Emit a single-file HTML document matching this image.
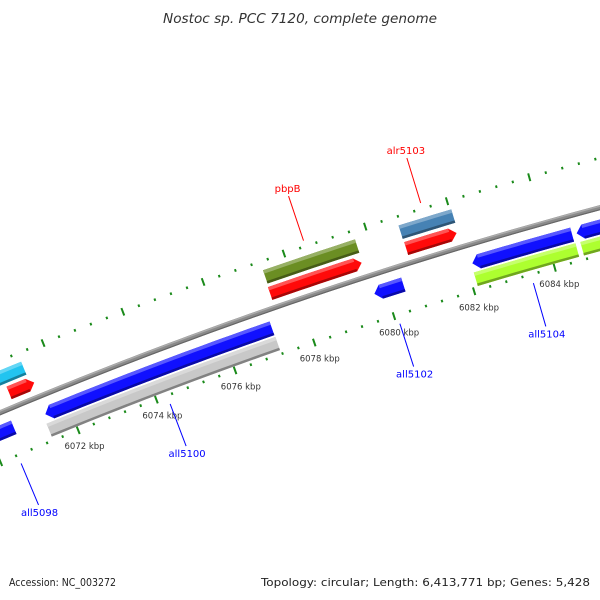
<!DOCTYPE html>
<html><head><meta charset="utf-8"><style>
html,body{margin:0;padding:0;background:#fff;overflow:hidden;width:600px;height:600px}
svg{display:block;overflow:hidden}
text{font-family:"DejaVu Sans","Liberation Sans",sans-serif}
</style></head><body>
<svg id="map" width="600" height="600" viewBox="0 0 600 600" xmlns="http://www.w3.org/2000/svg">
<rect x="0" y="0" width="600" height="600" fill="#fff"/>
<text x="300" y="23" text-anchor="middle" font-size="13" font-style="italic" fill="#333" textLength="274" lengthAdjust="spacingAndGlyphs">Nostoc sp. PCC 7120, complete genome</text>
<g id="ticks"></g>
<g id="backbone"></g>
<g id="features"></g>
<g id="labels"></g>
<text x="9" y="586" font-size="11" fill="#222" textLength="107" lengthAdjust="spacingAndGlyphs">Accession: NC_003272</text>
<text x="590" y="586" text-anchor="end" font-size="11" fill="#222" textLength="329" lengthAdjust="spacingAndGlyphs">Topology: circular; Length: 6,413,771 bp; Genes: 5,428</text>
</svg>
<script>
// ---- data (positions in kbp) ----
const geneNames  = ["gene-cyan","pbpB-box","alr5103-box","red-a","pbpB","alr5103","all5098","all5100","all5102","all5104","all5106","gray-box","lime-box","lime-box-2"];
const geneStart  = [6069.0,6077.41,6080.75,6070.82,6077.39,6080.76,6068.0,6071.42,6079.72,6082.15,6084.72,6071.36,6082.12,6084.75];
const geneEnd    = [6071.36,6079.68,6082.04,6071.46,6079.66,6082.0,6070.61,6077.16,6080.44,6084.61,6089.0,6077.17,6084.63,6089.0];
const geneTrack  = ["outerFar","outerFar","outerFar","outerNear","outerNear","outerNear","innerNear","innerNear","innerNear","innerNear","innerNear","innerFar","innerFar","innerFar"];
const geneShape  = ["box","box","box","fwd","fwd","fwd","rev","rev","rev","rev","rev","box","box","box"];
const geneColor  = ["#22c4f0","#6b8e23","#4682b4","#ff0a0a","#ff0a0a","#ff0a0a","#1010ff","#1010ff","#1010ff","#1010ff","#1010ff","#c8c8c8","#adff2f","#adff2f"];
const labelNames = ["pbpB","alr5103","all5098","all5100","all5102","all5104"];
const labelPos   = [6078.53,6081.40,6070.44,6074.27,6080.08,6083.41];
const labelSide  = ["outer","outer","inner","inner","inner","inner"];
const labelColor = ["#ff0000","#ff0000","#0000ff","#0000ff","#0000ff","#0000ff"];
const tickLabelKbp = [6072,6074,6076,6078,6080,6082,6084];

// ---- geometry ----
const CX=1813, CY=4737, RB=4689;
const A0=-111.94, K0=6072, DEG_PER_KBP=0.518;
const trackOff={outerFar:[25,39],outerNear:[8,21.5],innerNear:[-26,-11.5],innerFar:[-42,-28]};
const NS="http://www.w3.org/2000/svg";
function ang(k){return (A0+(k-K0)*DEG_PER_KBP)*Math.PI/180;}
function pt(k,r){const a=ang(k);return [CX+r*Math.cos(a),CY+r*Math.sin(a)];}
function f(p){return p[0].toFixed(2)+" "+p[1].toFixed(2);}
function mk(tag,parent){const e=document.createElementNS(NS,tag);parent.appendChild(e);return e;}
function shade(hex,amt){let n=parseInt(hex.slice(1),16);let r=n>>16,g=(n>>8)&255,b=n&255;
 const t=amt<0?0:255,p=Math.abs(amt);r=Math.round(r+(t-r)*p);g=Math.round(g+(t-g)*p);b=Math.round(b+(t-b)*p);
 return "rgb("+r+","+g+","+b+")";}
function arcPts(k1,k2,R){const n=Math.max(2,Math.ceil(Math.abs(k2-k1)*4));const a=[];
 for(let i=0;i<=n;i++)a.push(f(pt(k1+(k2-k1)*i/n,R)));return a;}
function band(k1,k2,r1,r2){const o=arcPts(k1,k2,RB+r2),i=arcPts(k2,k1,RB+r1);
 return "M"+o.join(" L")+" L"+i.join(" L")+" Z";}
const HEAD=0.16; // kbp

// ticks
const tg=document.getElementById("ticks");
for(const ring of [48,-46]){
 for(let i=0;i<=55;i++){
  const k=6068+i*0.4; const major=(Math.round(k*10)%20===0);
  const len=major?4:1.3;
  const p1=pt(k,RB+ring-len),p2=pt(k,RB+ring+len);
  const l=mk("line",tg);
  
  
  l.setAttribute("x1",p1[0]);l.setAttribute("y1",p1[1]);l.setAttribute("x2",p2[0]);l.setAttribute("y2",p2[1]);
  l.setAttribute("stroke","#1a8a1a");l.setAttribute("stroke-width","2");
 }
}
tickLabelKbp.forEach(k=>{
 const p=pt(k,RB-63);const t=mk("text",tg);
 
 
 t.setAttribute("x",p[0]);t.setAttribute("y",p[1]+3);t.setAttribute("text-anchor","middle");
 t.setAttribute("font-size","8.5");t.setAttribute("fill","#333");t.textContent=k+" kbp";
});

// backbone
const bb=document.getElementById("backbone");
[[0,5,"#8a8a8a"],[1.5,1.5,"#acacac"],[-2,1.2,"#666"]].forEach(s=>{
 const c=mk("path",bb);
 
 
 c.setAttribute("d","M"+arcPts(6066,6090,RB+s[0]).join(" L"));
 c.setAttribute("fill","none");c.setAttribute("stroke",s[2]);c.setAttribute("stroke-width",s[1]);
});

// features
const fg=document.getElementById("features");
geneNames.forEach((n,i)=>{
 const o=trackOff[geneTrack[i]],r1=o[0],r2=o[1],rm=(r1+r2)/2;
 let k1=geneStart[i],k2=geneEnd[i],shape=geneShape[i],col=geneColor[i];
 const g=mk("g",fg);
 
 
 let d,b1=k1,b2=k2;
 if(shape==="fwd"){b2=k2-HEAD;
  d="M"+arcPts(k1,b2,RB+r2).join(" L")+" L"+f(pt(k2,RB+rm))+" L"+arcPts(b2,k1,RB+r1).join(" L")+" Z";}
 else if(shape==="rev"){b1=k1+HEAD;
  d="M"+arcPts(b1,k2,RB+r2).join(" L")+" L"+arcPts(k2,b1,RB+r1).join(" L")+" L"+f(pt(k1,RB+rm))+" Z";}
 else d=band(k1,k2,r1,r2);
 const m=mk("path",g);m.setAttribute("d",d);m.setAttribute("fill",col);
 const top=mk("path",g);top.setAttribute("d",band(b1,b2,r2-3.5,r2));top.setAttribute("fill",shade(col,0.3));
 const bot=mk("path",g);bot.setAttribute("d",band(b1,b2,r1,r1+2.5));bot.setAttribute("fill",shade(col,-0.35));
});

// labels
const lg=document.getElementById("labels");
labelNames.forEach((n,i)=>{
 const out=labelSide[i]==="outer";
 const pa=pt(labelPos[i],RB+(out?54:-55)),pb=pt(labelPos[i],RB+(out?101:-100));
 const l=mk("line",lg);
 
 
 l.setAttribute("x1",pa[0]);l.setAttribute("y1",pa[1]);l.setAttribute("x2",pb[0]);l.setAttribute("y2",pb[1]);
 l.setAttribute("stroke",labelColor[i]);l.setAttribute("stroke-width","1");
 const t=mk("text",lg);
 
 
 t.setAttribute("x",pb[0]+(out?-1:1));t.setAttribute("y",out?pb[1]-4:pb[1]+11);
 t.setAttribute("text-anchor","middle");t.setAttribute("font-size","10");t.setAttribute("fill",labelColor[i]);
 t.textContent=n;
});
</script>
</body></html>
